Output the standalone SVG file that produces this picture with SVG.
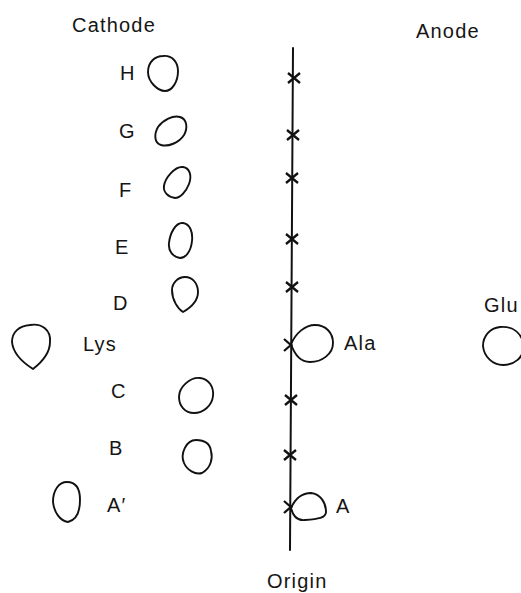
<svg xmlns="http://www.w3.org/2000/svg" width="521" height="593" viewBox="0 0 521 593">
<style>
text{font-family:"Liberation Sans",Arial,sans-serif;font-size:20px;fill:#151515;letter-spacing:1.2px}
.spot{fill:none;stroke:#111;stroke-width:1.9;stroke-linejoin:round}
.ax{stroke:#111;stroke-width:2;fill:none;stroke-linecap:round}
.x{stroke:#111;stroke-width:2.3;fill:none}
</style>
<rect width="521" height="593" fill="#fff"/>
<g id="titles">
<text x="72" y="32">Cathode</text>
<text x="416" y="38">Anode</text>
<text x="267" y="588">Origin</text>
</g>
<g id="connectors">
<line class="ax" x1="293" y1="48" x2="290" y2="550"/>
<path class="x" d="M288,73 L300,83 M288,83 L300,73"/>
<path class="x" d="M287,130 L299,140 M287,140 L299,130"/>
<path class="x" d="M286,173 L298,183 M286,183 L298,173"/>
<path class="x" d="M286,234 L298,244 M286,244 L298,234"/>
<path class="x" d="M286,282 L298,292 M286,292 L298,282"/>
<path class="x" d="M284,339 L292,346 M284,351 L292,344"/>
<path class="x" d="M285,395 L297,405 M285,405 L297,395"/>
<path class="x" d="M284,450 L296,460 M284,460 L296,450"/>
<path class="x" d="M284,501 L292,508 M284,513 L292,506"/>
</g>
<g id="H"><text x="120" y="80">H</text><path class="spot" d="M163,56 C172,55 178,62 178,71 C178,82 172,91 165,91 C158,91 148,82 148,72 C148,62 155,56 163,56 Z"/></g>
<g id="G"><text x="119" y="138">G</text><path class="spot" d="M180,117 C187,119 188,128 184,135 C179,143 168,147 161,145 C154,143 154,134 158,127 C163,120 173,115 180,117 Z"/></g>
<g id="F"><text x="119" y="197">F</text><path class="spot" d="M183,167 C190,168 192,176 189,184 C186,192 180,198 175,198 C168,197 163,192 164,186 C165,178 175,166 183,167 Z"/></g>
<g id="E"><text x="115" y="254">E</text><path class="spot" d="M183,223 C190,224 193,232 192,241 C191,251 186,258 180,258 C173,257 168,251 169,243 C170,233 176,222 183,223 Z"/></g>
<g id="D"><text x="113" y="310">D</text><path class="spot" d="M185,277 C193,277 198,284 198,292 C198,301 190,308 183,312 C178,309 172,300 172,290 C172,283 178,277 185,277 Z"/></g>
<g id="Lys"><text x="83" y="351">Lys</text><path class="spot" d="M30,325 C42,323 51,330 50,342 C50,353 42,362 33,369 C22,362 13,353 12,342 C12,332 19,326 30,325 Z"/></g>
<g id="Ala"><text x="344" y="350">Ala</text><path class="spot" d="M291,344 C296,333 305,325 315,325 C326,325 333,333 333,343 C333,354 322,362 310,362 C300,362 294,353 291,344 Z"/></g>
<g id="Glu"><text x="484" y="312">Glu</text><path class="spot" d="M500,327 C512,326 521,332 524,345 C524,358 514,365 503,365 C493,365 484,357 483,346 C483,336 490,328 500,327 Z"/></g>
<g id="C"><text x="111" y="398">C</text><path class="spot" d="M200,378 C209,379 214,387 213,396 C212,406 203,413 194,413 C185,413 179,406 179,397 C179,387 190,377 200,378 Z"/></g>
<g id="B"><text x="109" y="455">B</text><path class="spot" d="M196,440 C205,440 210,444 211,451 C213,458 211,468 202,473 C195,475 187,470 184,463 C180,454 186,440 196,440 Z"/></g>
<g id="Aprime"><text x="107" y="512">A′</text><path class="spot" d="M67,482 C75,482 80,488 80,500 C80,512 76,520 68,522 C60,521 54,512 53,502 C53,490 59,482 67,482 Z"/></g>
<g id="A"><text x="336" y="513">A</text><path class="spot" d="M291,508 C296,497 304,493 311,493 C320,494 326,502 326,512 C326,518 318,519 305,520 C297,521 293,516 291,508 Z"/></g>
</svg>
